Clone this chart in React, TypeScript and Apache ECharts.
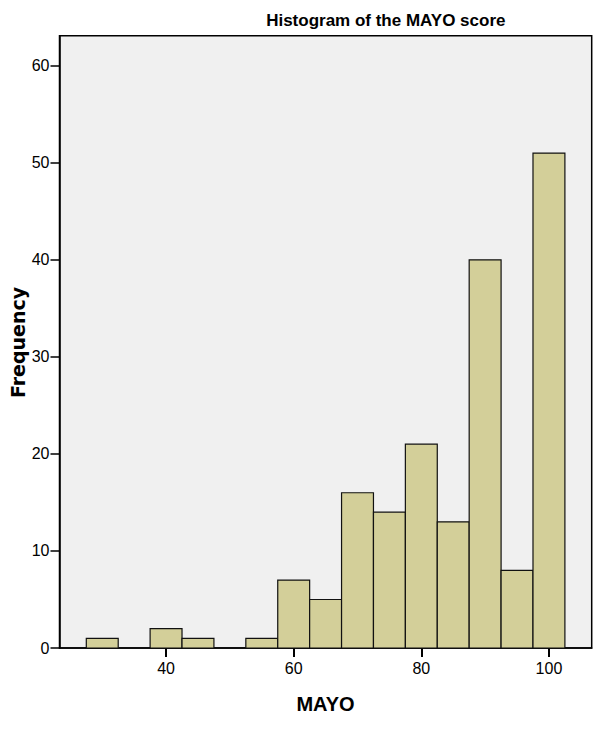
import React, { useEffect, useRef } from "react";
import * as echarts from "echarts";

// Histogram data (bin centres, width 5)
const binCenters = [30, 35, 40, 45, 50, 55, 60, 65, 70, 75, 80, 85, 90, 95, 100];
const frequencies = [1, 0, 2, 1, 0, 1, 7, 5, 16, 14, 21, 13, 40, 8, 51];
const binWidth = 5;
const xTicks = [40, 60, 80, 100];
const yTicks = [0, 10, 20, 30, 40, 50, 60];
const titleText = "Histogram of the MAYO score";
const xName = "MAYO";
const yName = "Frequency";

const NARROW = "'Liberation Sans Narrow', 'Arial Narrow', 'Liberation Sans', Arial, sans-serif";
const SANS = "'Liberation Sans', Arial, sans-serif";

export default function App() {
  const ref = useRef<HTMLDivElement>(null);
  useEffect(() => {
    if (!ref.current) return;
    const chart = echarts.init(ref.current, undefined, { renderer: "svg" });
    const data = binCenters.map((c, i) => [c, frequencies[i]]);
    chart.setOption({
      animation: false,
      backgroundColor: "#ffffff",
      grid: {
        left: 59.5,
        right: 8.3,
        top: 35.7,
        bottom: 81,
        show: true,
        backgroundColor: "#f0f0f0",
        borderColor: "#000",
        borderWidth: 1.5,
      },
      graphic: [
        {
          type: "text",
          x: 385.8,
          y: 20.8,
          style: {
            text: titleText,
            font: `bold 17px ${SANS}`,
            fill: "#000",
            align: "center",
            verticalAlign: "middle",
          },
        },
        {
          type: "text",
          x: 325.5,
          y: 704.4,
          style: {
            text: xName,
            font: `bold 20px ${NARROW}`,
            fill: "#000",
            align: "center",
            verticalAlign: "middle",
          },
        },
        {
          type: "text",
          x: 18.4,
          y: 342.5,
          rotation: Math.PI / 2,
          style: {
            text: yName,
            font: "bold 19px 'DejaVu Sans', sans-serif",
            fill: "#000",
            align: "center",
            verticalAlign: "middle",
          },
        },
      ],
      xAxis: {
        type: "value",
        min: 23.3,
        max: 106.7,
        axisLine: { show: true, lineStyle: { color: "#000", width: 1.5 } },
        axisTick: {
          show: true,
          length: 9,
          customValues: xTicks,
          lineStyle: { color: "#000", width: 2 },
        },
        axisLabel: {
          customValues: xTicks,
          margin: 12,
          color: "#000",
          fontSize: 16,
          fontFamily: NARROW,
        },
        splitLine: { show: false },
      },
      yAxis: {
        type: "value",
        min: 0,
        max: 63.1,
        axisLine: { show: true, lineStyle: { color: "#000", width: 1.5 } },
        axisTick: {
          show: true,
          length: 9,
          customValues: yTicks,
          lineStyle: { color: "#000", width: 1.5 },
        },
        axisLabel: {
          customValues: yTicks,
          margin: 10,
          color: "#000",
          fontSize: 16,
          fontFamily: NARROW,
        },
        splitLine: { show: false },
      },
      series: [
        {
          type: "custom",
          data,
          renderItem: (params: any, api: any) => {
            const c = api.value(0);
            const v = api.value(1);
            if (!v) return null;
            const p0 = api.coord([c - binWidth / 2, v]);
            const p1 = api.coord([c + binWidth / 2, 0]);
            return {
              type: "rect",
              shape: { x: p0[0], y: p0[1], width: p1[0] - p0[0], height: p1[1] - p0[1] },
              style: { fill: "#d3cf99", stroke: "#111", lineWidth: 1.2 },
            };
          },
        },
      ],
    });
    return () => chart.dispose();
  }, []);
  return (
    <div
      ref={ref}
      style={{ position: "fixed", left: 0, top: 0, width: 600, height: 729 }}
    />
  );
}
